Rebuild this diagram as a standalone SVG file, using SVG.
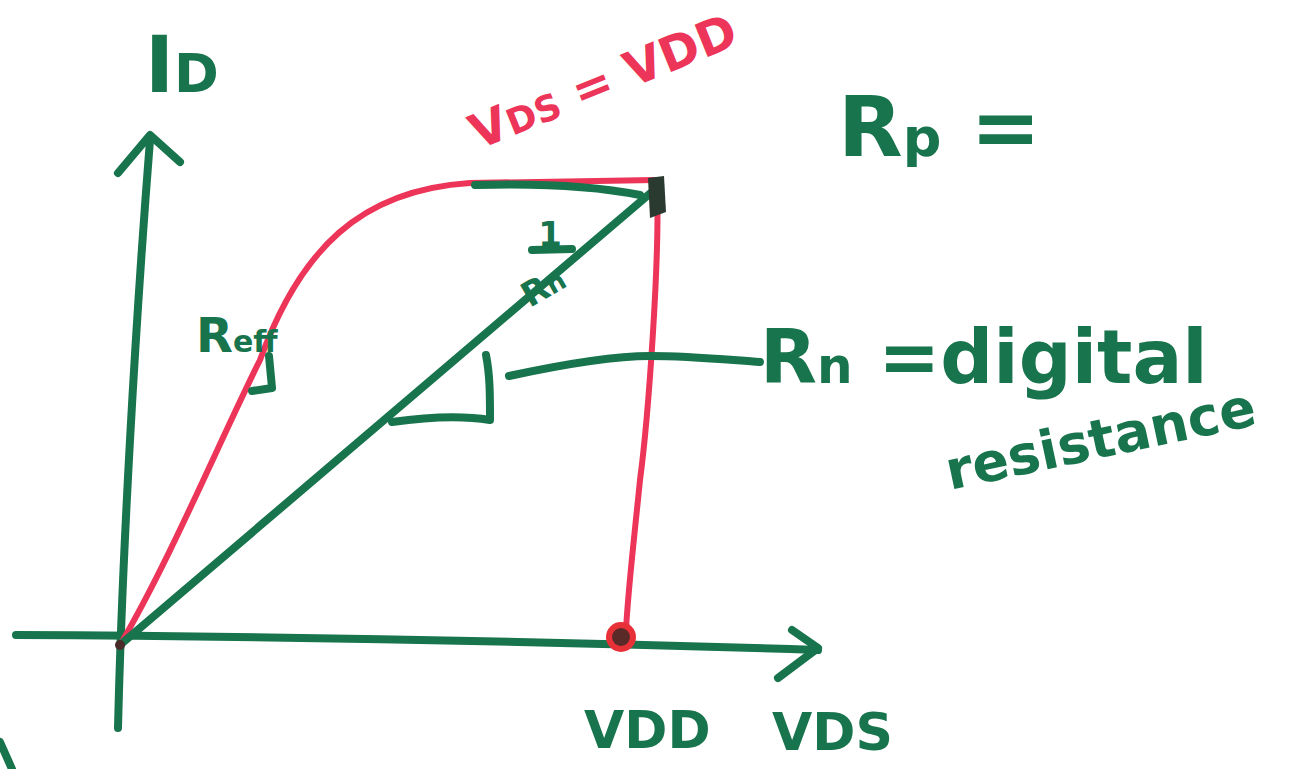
<svg xmlns="http://www.w3.org/2000/svg" width="1295" height="769" viewBox="0 0 1295 769">
<style>
.g{fill:none;stroke:#17744c;stroke-width:8;stroke-linecap:round;stroke-linejoin:round}
.r{fill:none;stroke:#ec3558;stroke-width:6;stroke-linecap:round;stroke-linejoin:round}
.tg{fill:#17744c;font-family:"DejaVu Sans",sans-serif;font-weight:bold}
.tr{fill:#ec3558;font-family:"DejaVu Sans",sans-serif;font-weight:bold}
</style>
<rect width="1295" height="769" fill="#ffffff"/>
<g id="connectors">
<path class="g" d="M118,728 C122,560 135,330 150,140"/>
<path class="g" d="M118,173 L150,135 L180,162"/>
<path class="g" d="M16,635 C250,636 500,640 818,650"/>
<path class="g" d="M792,630 L818,648 L778,678"/>
<path class="r" d="M120,645 C170,560 220,440 260,360 C300,250 360,190 470,183 L655,180"/>
<path class="r" d="M657,185 C660,260 648,420 640,480 C634,540 628,590 626,630"/>
<path class="g" d="M120,645 L660,185"/>
<path class="g" d="M475,185 C540,183 600,187 640,195"/>
<path class="g" d="M269,356 L272,388 L252,391"/>
<path class="g" d="M486,355 C490,375 490,395 490,420 C460,415 420,418 392,422"/>
<path class="g" d="M509,376 C560,365 610,356 650,356 C690,356 730,360 760,362"/>
<path class="g" d="M0,742 L12,769"/>
</g>
<g id="dots">
<circle cx="621" cy="637" r="15" fill="#e83038"/>
<circle cx="621" cy="637" r="9" fill="#5a2a28"/>
<path d="M648,178 L664,176 L666,212 L650,218 Z" fill="#2a3a30"/>
<circle cx="120" cy="645" r="5" fill="#4a2a28"/>
</g>
<g id="label-id"><text class="tg" x="145" y="92" font-size="78">I<tspan font-size="54">D</tspan></text></g>
<g id="label-vds-vdd"><text class="tr" x="0" y="0" font-size="48" transform="translate(478,150) rotate(-22)">V<tspan font-size="36">DS</tspan> = VDD</text></g>
<g id="label-rp"><text class="tg" x="838" y="156" font-size="84">R<tspan font-size="54">p</tspan> =</text></g>
<g id="label-slope">
<text class="tg" x="550" y="246" font-size="34" text-anchor="middle">1</text>
<path class="g" d="M532,250 L572,249"/>
<text class="tg" x="545" y="298" font-size="34" text-anchor="middle" transform="rotate(-30 545 290)">R<tspan font-size="26">n</tspan></text>
</g>
<g id="label-reff"><text class="tg" x="196" y="352" font-size="48">R<tspan font-size="30">eff</tspan></text></g>
<g id="label-rn"><text class="tg" x="760" y="383" font-size="74">R<tspan font-size="50">n</tspan> =digital</text></g>
<g id="label-resistance"><text class="tg" x="950" y="490" font-size="54" transform="rotate(-12 950 490)">resistance</text></g>
<g id="label-vdd"><text class="tg" x="584" y="748" font-size="52">VDD</text></g>
<g id="label-vds"><text class="tg" x="772" y="750" font-size="52">VDS</text></g>
</svg>
